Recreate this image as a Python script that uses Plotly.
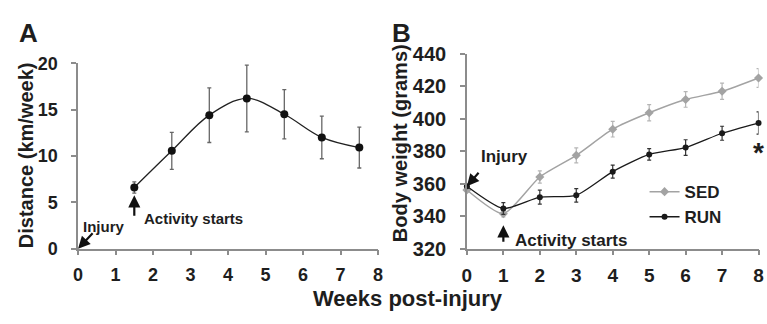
import plotly.graph_objects as go

# Panel A: running distance
weeks_a = [1.5, 2.5, 3.5, 4.5, 5.5, 6.5, 7.5]
distance = [6.6, 10.55, 14.4, 16.2, 14.5, 12.0, 10.9]
distance_err = [0.6, 2.0, 2.95, 3.6, 2.65, 2.3, 2.2]

# Panel B: body weight
weeks_b = [0, 1, 2, 3, 4, 5, 6, 7, 8]
sed_weight = [356.1, 341.5, 364.1, 377.4, 393.5, 403.6, 411.8, 416.8, 425.0]
sed_err = [1.0, 2.0, 3.8, 4.6, 4.8, 5.0, 4.8, 5.0, 5.8]
run_weight = [358.4, 344.7, 351.7, 352.8, 367.4, 378.0, 382.2, 391.0, 397.3]
run_err = [1.0, 3.6, 4.3, 4.2, 4.0, 3.5, 4.8, 4.3, 6.8]

x_ticks = [0, 1, 2, 3, 4, 5, 6, 7, 8]
ya_ticks = [0, 5, 10, 15, 20]
yb_ticks = [320, 340, 360, 380, 400, 420, 440]

FONT = "Liberation Sans, Arial, sans-serif"
AXC = "#8c8c8c"
TXT = "#1e1e1e"
SED_C = "#a3a3a3"
RUN_C = "#1a1a1a"

fig = go.Figure()

fig.add_trace(go.Scatter(
    x=weeks_a, y=distance, mode="lines+markers",
    line=dict(color="#222222", width=1.3, shape="spline", smoothing=1.0),
    marker=dict(color="#111111", size=8),
    error_y=dict(type="data", array=distance_err, color="#666666", thickness=1.3, width=2),
    xaxis="x", yaxis="y", showlegend=False, cliponaxis=False,
))

fig.add_trace(go.Scatter(
    x=weeks_b, y=sed_weight, mode="lines+markers", name="SED",
    line=dict(color=SED_C, width=1.5, shape="spline", smoothing=0.6),
    marker=dict(color=SED_C, size=7, symbol="diamond"),
    error_y=dict(type="data", array=sed_err, color="#b5b5b5", thickness=1.2, width=2),
    xaxis="x2", yaxis="y2", cliponaxis=False,
))
fig.add_trace(go.Scatter(
    x=weeks_b, y=run_weight, mode="lines+markers", name="RUN",
    line=dict(color=RUN_C, width=1.3, shape="spline", smoothing=0.6),
    marker=dict(color=RUN_C, size=6),
    error_y=dict(type="data", array=run_err, color="#333333", thickness=1.2, width=2),
    xaxis="x2", yaxis="y2", cliponaxis=False,
))

axis_common = dict(
    showgrid=False, zeroline=False, showline=True, linecolor=AXC, linewidth=1.5,
    ticks="outside", tickcolor=AXC, ticklen=5, tickwidth=1.5,
)

fig.update_layout(
    width=767, height=324,
    margin=dict(l=0, r=0, t=0, b=0),
    paper_bgcolor="white", plot_bgcolor="white",
    font=dict(family=FONT, color=TXT),
    xaxis=dict(domain=[74/767, 378/767], range=[0, 8], tickvals=x_ticks,
               tickfont=dict(size=18, family=FONT, color=TXT, weight="bold"),
               ticklabelstandoff=4, anchor="y", **axis_common),
    yaxis=dict(domain=[69/324, 268/324], range=[0, 20], tickvals=ya_ticks,
               tickfont=dict(size=18, family=FONT, color=TXT, weight="bold"),
               ticklabelstandoff=10, anchor="x", **axis_common),
    xaxis2=dict(domain=[468/767, 763.5/767], range=[0, 8], tickvals=x_ticks,
                tickfont=dict(size=19, family=FONT, color=TXT, weight="bold"),
                ticklabelstandoff=4, anchor="y2", **axis_common),
    yaxis2=dict(domain=[69/324, 278.3/324], range=[320, 440], tickvals=yb_ticks,
                tickfont=dict(size=20, family=FONT, color=TXT, weight="bold"),
                ticklabelstandoff=10, anchor="x2", **axis_common),
    legend=dict(x=648/767, y=0.46, xanchor="left", yanchor="top",
                font=dict(size=17, family=FONT, color=TXT, weight="bold"),
                bgcolor="rgba(0,0,0,0)", itemwidth=30, tracegroupgap=0),
    showlegend=True,
)

ann = []
def text_ann(text, x, y, xref, yref, size, xanchor="center", yanchor="middle", angle=0):
    ann.append(dict(text=text, x=x, y=y, xref=xref, yref=yref, showarrow=False,
                    xanchor=xanchor, yanchor=yanchor, textangle=angle,
                    font=dict(size=size, family=FONT, color=TXT, weight="bold")))

def arrow_ann(x, y, xref, yref, ax, ay):
    ann.append(dict(text="", x=x, y=y, xref=xref, yref=yref, showarrow=True,
                    ax=ax, ay=ay, arrowhead=2, arrowsize=1.1, arrowwidth=2.2,
                    arrowcolor="#111111", standoff=0, startstandoff=0))

# panel labels and titles
text_ann("A", 24/767, (324-24)/324, "paper", "paper", 26)
text_ann("B", 402/767, (324-23.5)/324, "paper", "paper", 26)
text_ann("Distance (km/week)", 22/767, (324-155)/324, "paper", "paper", 20, angle=-90)
text_ann("Body weight (grams)", 401/767, (324-142)/324, "paper", "paper", 20, angle=-90)
text_ann("Weeks post-injury", 408/767, 0.0, "paper", "paper", 22, yanchor="bottom")

# panel A callouts
arrow_ann(0, 0, "x", "y", 16, -17)
text_ann("Injury", 0.08, 2.4, "x", "y", 15, xanchor="left")
arrow_ann(1.5, 5.75, "x", "y", 0, 22)
text_ann("Activity starts", 1.71, 3.25, "x", "y", 15, xanchor="left")

# panel B callouts
arrow_ann(0, 358.4, "x2", "y2", 13, -15)
text_ann("Injury", 0.34, 376.4, "x2", "y2", 17, xanchor="left")
arrow_ann(1, 334.4, "x2", "y2", 0, 18)
text_ann("Activity starts", 1.27, 324.8, "x2", "y2", 17, xanchor="left")
text_ann("*", 8, 379, "x2", "y2", 28)

fig.update_layout(annotations=ann)

fig.write_html("out.html")
